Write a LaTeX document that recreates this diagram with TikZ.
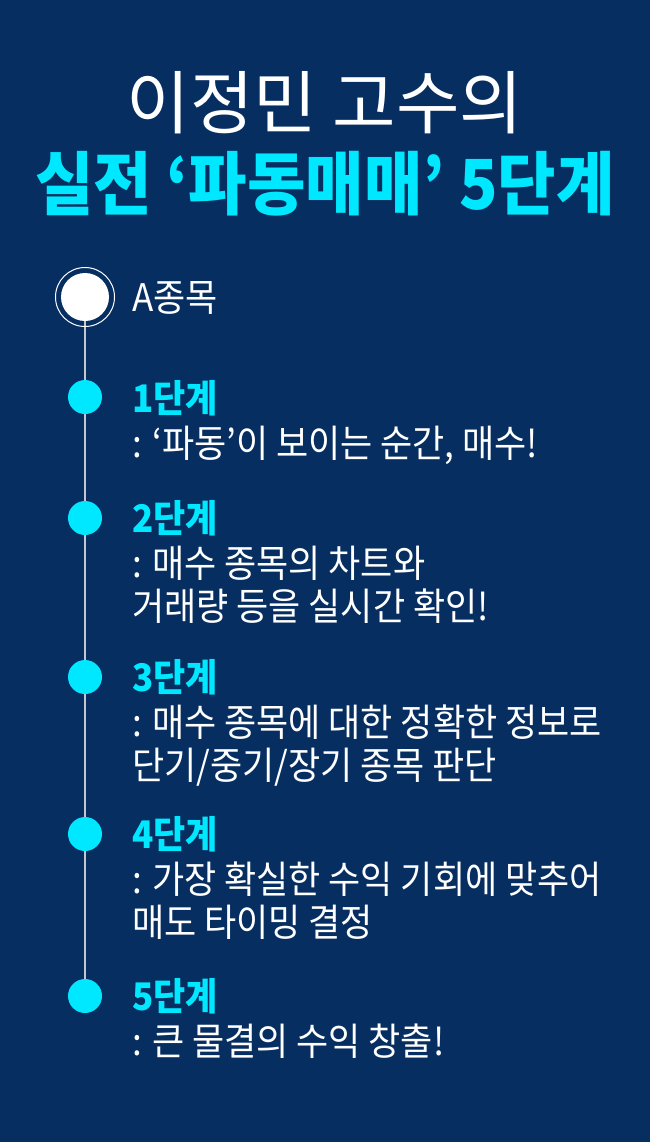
\documentclass[tikz,border=0pt]{standalone}
\usepackage{fontspec}
\newfontfamily\kr[FakeStretch=0.92]{Noto Sans CJK KR}
\newfontfamily\krtitle[FakeStretch=1.0]{Noto Sans CJK KR}
\definecolor{navy}{HTML}{062E61}
\definecolor{cyanx}{HTML}{00E8FF}
\definecolor{linegrey}{HTML}{C4C6D0}
\tikzset{
  txt/.style={anchor=base west, inner sep=0pt, text=white, font=\kr\fontsize{38}{38}\selectfont},
  steplbl/.style={txt, text=cyanx, font=\kr\bfseries\fontsize{38}{38}\selectfont},
  dot/.style={circle, fill=cyanx, minimum size=34pt, inner sep=0pt},
  title/.style={anchor=base, inner sep=0pt}
}
\begin{document}
\begin{tikzpicture}[x=1pt,y=-1pt]
\fill[navy] (0,0) rectangle (650,1142);
\useasboundingbox (0,0) rectangle (650,1142);
% titles
\node[title, text=white, font=\krtitle\fontsize{69}{69}\selectfont] (t1) at (325,128.5) {이정민 고수의};
\node[title, text=cyanx, font=\kr\bfseries\fontsize{69}{69}\selectfont] (t2) at (325,209.5) {실전 ‘파동매매’ 5단계};
% timeline
\coordinate (c0) at (85,297);
\coordinate (c5) at (85,996);
\draw[linegrey, line width=1.6pt] (c0) -- (c5);
\node[circle, draw=white, line width=1pt, minimum size=59pt, inner sep=0pt] (ring) at (c0) {};
\node[circle, fill=white, minimum size=48pt, inner sep=0pt] (start) at (c0) {};
\node[dot] (d1) at (85,397) {};
\node[dot] (d2) at (85,518) {};
\node[dot] (d3) at (85,677) {};
\node[dot] (d4) at (85,834) {};
\node[dot] (d5) at (c5) {};
% texts
\node[txt] (a) at (132,311.5) {A종목};
\node[steplbl] (s1) at (132,412) {1단계};
\node[txt] (s1a) at (132,457) {: ‘파동’이 보이는 순간, 매수!};
\node[steplbl] (s2) at (132,532) {2단계};
\node[txt] (s2a) at (132,577) {: 매수 종목의 차트와};
\node[txt] (s2b) at (132,620) {거래량 등을 실시간 확인!};
\node[steplbl] (s3) at (132,691) {3단계};
\node[txt] (s3a) at (132,736) {: 매수 종목에 대한 정확한 정보로};
\node[txt] (s3b) at (132,779) {단기/중기/장기 종목 판단};
\node[steplbl] (s4) at (132,848) {4단계};
\node[txt] (s4a) at (132,893) {: 가장 확실한 수익 기회에 맞추어};
\node[txt] (s4b) at (132,936) {매도 타이밍 결정};
\node[steplbl] (s5) at (132,1010) {5단계};
\node[txt] (s5a) at (132,1055) {: 큰 물결의 수익 창출!};
\end{tikzpicture}
\end{document}
